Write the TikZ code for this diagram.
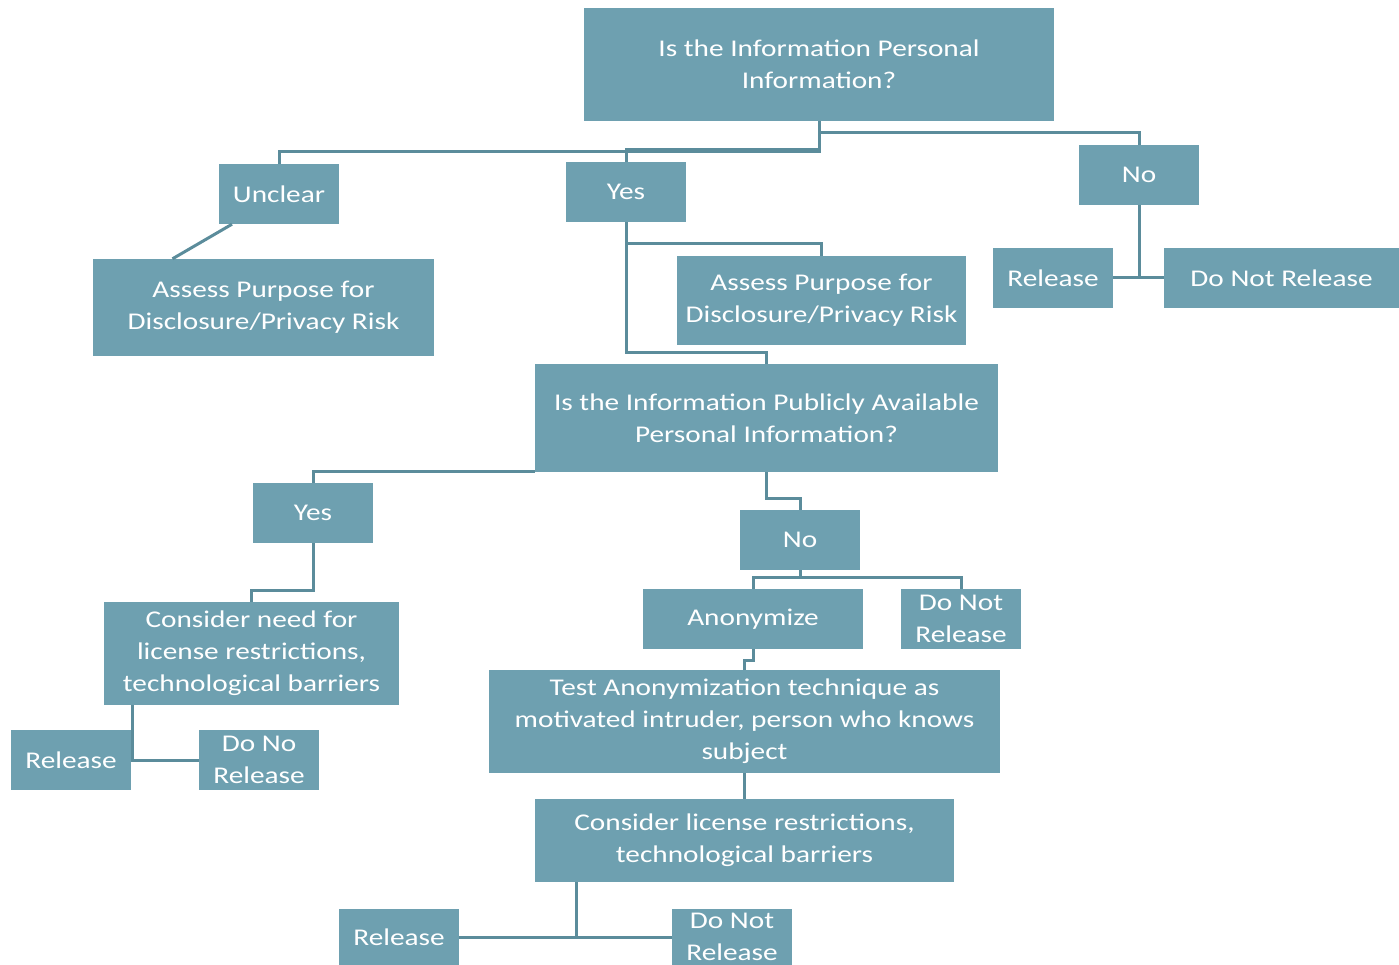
\documentclass[tikz,border=0pt]{standalone}
\usepackage{fontspec}
\setmainfont[FakeStretch=1.22]{Carlito}
\definecolor{boxfill}{HTML}{6EA0B0}
\definecolor{linecol}{HTML}{5B8C9B}
\tikzset{
  box/.style={rectangle, fill=boxfill, text=white, inner sep=0pt, align=center,
    font=\fontsize{24}{32}\selectfont},
  conn/.style={draw=linecol, line width=3pt}
}
\begin{document}
\begin{tikzpicture}[x=1pt,y=-1pt]
\useasboundingbox (0,0) rectangle (1399,965);
% boxes
\node[box, minimum width=470pt, minimum height=113pt] (Q1) at (819,64.5) {Is the Information Personal\\Information?};
\node[box, minimum width=120pt, minimum height=60pt] (Unclear) at (279,194) {Unclear};
\node[box, minimum width=120pt, minimum height=60pt] (Yes1) at (626,192) {Yes};
\node[box, minimum width=120pt, minimum height=60pt] (No1) at (1139,175) {No};
\node[box, minimum width=341pt, minimum height=97pt] (Assess1) at (263.5,307.5) {Assess Purpose for\\Disclosure/Privacy Risk};
\node[box, minimum width=289pt, minimum height=89pt] (Assess2) at (821.5,300.5) {Assess Purpose for\\Disclosure/Privacy Risk};
\node[box, minimum width=120pt, minimum height=60pt] (Rel1) at (1053,278) {Release};
\node[box, minimum width=235pt, minimum height=60pt] (DNR1) at (1281.5,278) {Do Not Release};
\node[box, minimum width=463pt, minimum height=108pt] (Q2) at (766.5,418) {Is the Information Publicly Available\\Personal Information?};
\node[box, minimum width=120pt, minimum height=60pt] (Yes2) at (313,513) {Yes};
\node[box, minimum width=120pt, minimum height=60pt] (No2) at (800,540) {No};
\node[box, minimum width=295pt, minimum height=103pt] (Con1) at (251.5,653.5) {Consider need for\\license restrictions,\\technological barriers};
\node[box, minimum width=220pt, minimum height=60pt] (Anon) at (753,619) {Anonymize};
\node[box, minimum width=120pt, minimum height=60pt] (DNR2) at (961,619) {Do Not\\Release};
\node[box, minimum width=511pt, minimum height=103pt] (Test) at (744.5,721.5) {Test Anonymization technique as\\motivated intruder, person who knows\\subject};
\node[box, minimum width=120pt, minimum height=60pt] (Rel2) at (71,760) {Release};
\node[box, minimum width=120pt, minimum height=60pt] (DoNo) at (259,760) {Do No\\Release};
\node[box, minimum width=419pt, minimum height=83pt] (Con2) at (744.5,840.5) {Consider license restrictions,\\technological barriers};
\node[box, minimum width=120pt, minimum height=56pt] (Rel3) at (399,937) {Release};
\node[box, minimum width=120pt, minimum height=56pt] (DNR3) at (732,937) {Do Not\\Release};
% connectors
\draw[conn] (Q1.south) -- ++(0,30) -| (Unclear.north);
\draw[conn] (Q1.south) -- ++(0,28) -| (Yes1.north);
\draw[conn] (Q1.south) -- ++(0,11) -| (No1.north);
\draw[conn] ([xshift=-47pt]Unclear.south) -- ([xshift=-91pt]Assess1.north);
\draw[conn] (Yes1.south) -- ++(0,130) -| (Q2.north);
\draw[conn] (Yes1.south) -- ++(0,21) -| (Assess2.north);
\draw[conn] (No1.south) |- (Rel1.east);
\draw[conn] (No1.south) |- (DNR1.west);
\draw[conn] ([yshift=1pt]Q2.south west) -| (Yes2.north);
\draw[conn] (Q2.south) -- ++(0,26) -| (No2.north);
\draw[conn] (Yes2.south) -- ++(0,47) -| (Con1.north);
\draw[conn] (No2.south) -- ++(0,7) coordinate (j2);
\draw[conn] (j2) -| (Anon.north);
\draw[conn] (j2) -| (DNR2.north);
\draw[conn] (Anon.south) -- ++(0,11) -| (Test.north);
\draw[conn] (Test.south) -- (Con2.north);
\draw[conn] ([xshift=29pt]Con1.south west) |- (DoNo.west);
\draw[conn] ([xshift=42pt]Con2.south west) |- (Rel3.east);
\draw[conn] ([xshift=42pt]Con2.south west) |- (DNR3.west);
\end{tikzpicture}
\end{document}
